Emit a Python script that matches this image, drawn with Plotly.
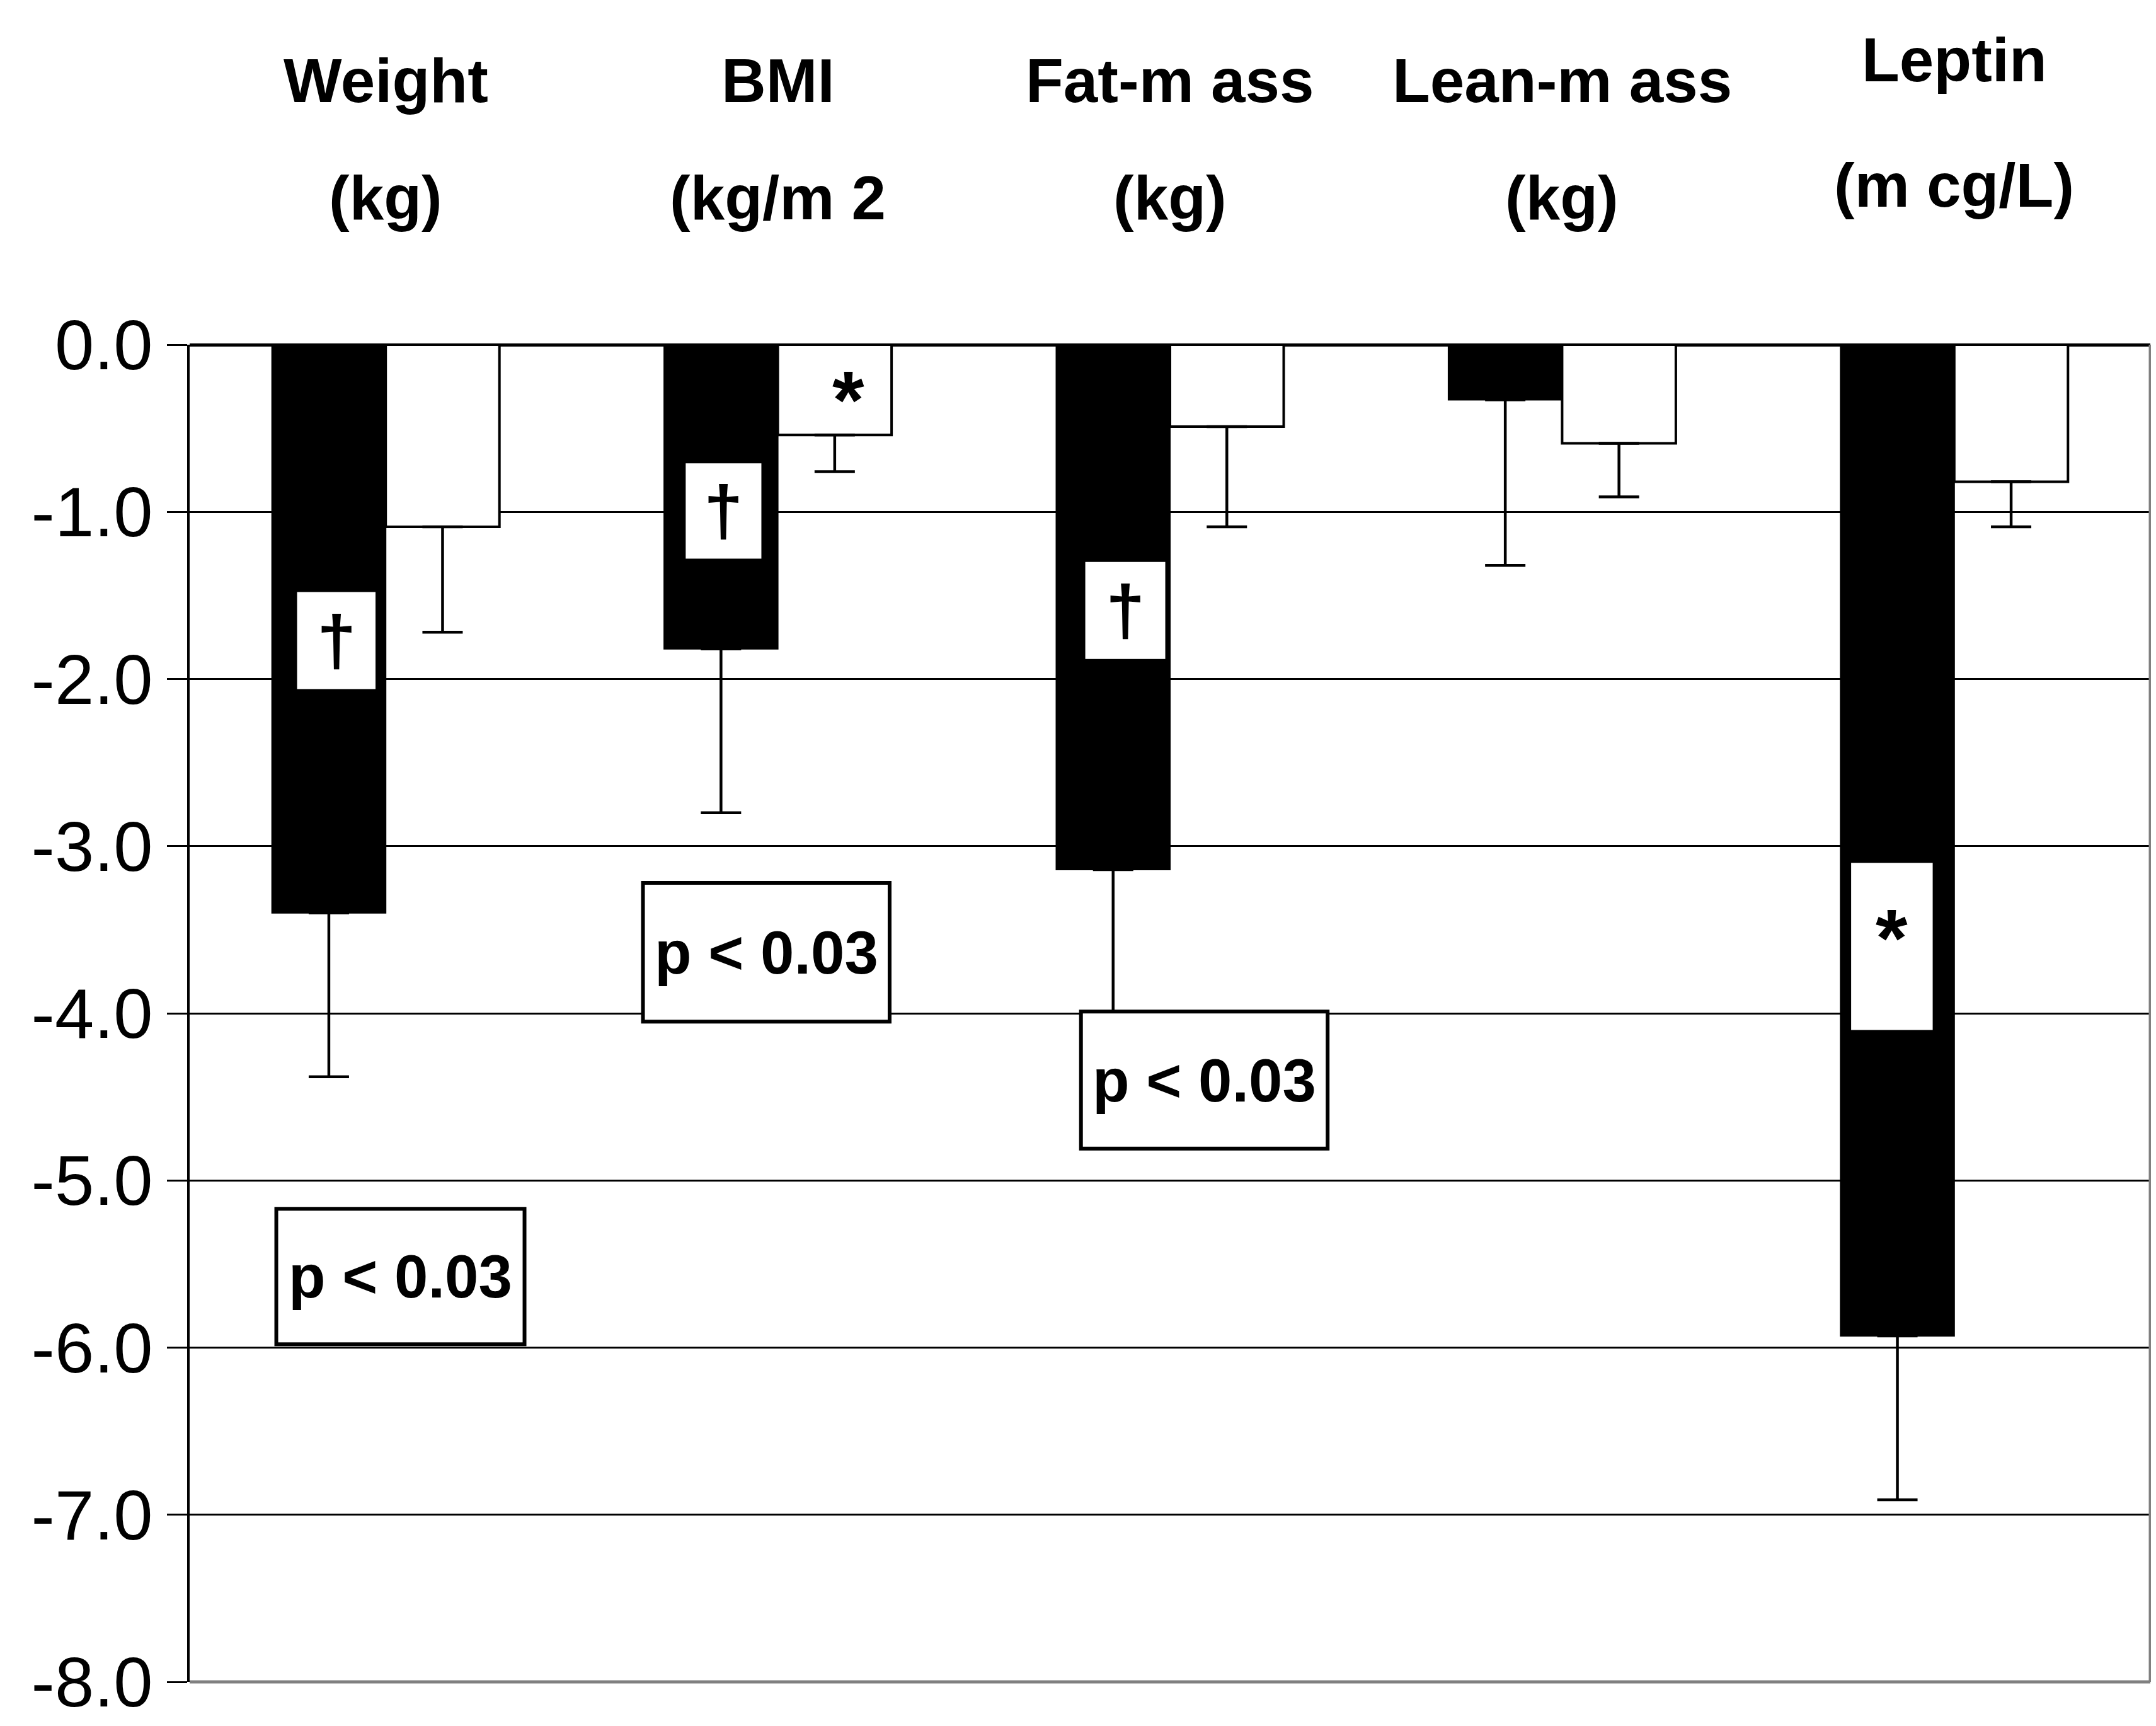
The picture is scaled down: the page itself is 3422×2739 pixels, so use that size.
import plotly.graph_objects as go

categories = ["Weight", "BMI", "Fat-mass", "Lean-mass", "Leptin"]
header_line1 = ["Weight", "BMI", "Fat-m ass", "Lean-m ass", "Leptin"]
header_line2 = ["(kg)", "(kg/m 2", "(kg)", "(kg)", "(m cg/L)"]
black_vals = [-3.40, -1.82, -3.14, -0.33, -5.93]
black_err = [0.98, 0.98, 0.92, 0.99, 0.98]
white_vals = [-1.09, -0.54, -0.49, -0.59, -0.82]
white_err = [0.63, 0.22, 0.60, 0.32, 0.27]
y_ticks = [0, -1, -2, -3, -4, -5, -6, -7, -8]

# significance markers (in data coords of category index)
mark_boxes = [(-0.226, -0.026, -1.48, -2.06, "†"),
              (0.765, 0.958, -0.71, -1.28, "†"),
              (1.784, 1.988, -1.30, -1.88, "†"),
              (3.737, 3.945, -3.10, -4.10, "*")]
p_boxes = [(-0.279, 0.354, -5.17, -5.98),
           (0.656, 1.285, -3.22, -4.05),
           (1.773, 2.402, -3.99, -4.81)]

BOLD = "Liberation Sans Narrow, Arial Narrow, Liberation Sans, Arial"

fig = go.Figure()
fig.add_trace(go.Bar(
    x=list(range(len(categories))), y=black_vals,
    marker=dict(color="black", line=dict(color="black", width=2)),
    error_y=dict(type="data", symmetric=False, array=[0] * 5, arrayminus=black_err,
                 color="black", thickness=4.5, width=32),
    showlegend=False))
fig.add_trace(go.Bar(
    x=list(range(len(categories))), y=white_vals,
    marker=dict(color="white", line=dict(color="black", width=4)),
    error_y=dict(type="data", symmetric=False, array=[0] * 5, arrayminus=white_err,
                 color="black", thickness=4.5, width=32),
    showlegend=False))

shapes = []
annotations = []
for x0, x1, y0, y1, sym in mark_boxes:
    shapes.append(dict(type="rect", xref="x", yref="y", x0=x0, x1=x1, y0=y0, y1=y1,
                       fillcolor="white", line=dict(width=0), layer="above"))
    if sym == "*":
        annotations.append(dict(x=(x0 + x1) / 2, y=y0 - 0.45, xref="x", yref="y", text="<b>*</b>",
                                showarrow=False, font=dict(family=BOLD, size=130, color="black")))
    else:
        annotations.append(dict(x=(x0 + x1) / 2, y=(y0 + y1) / 2, xref="x", yref="y", text="<b>†</b>",
                                showarrow=False, font=dict(family=BOLD, size=112, color="black")))
# asterisk in BMI white bar
annotations.append(dict(x=1.18, y=-0.33, xref="x", yref="y", text="<b>*</b>",
                        showarrow=False, font=dict(family=BOLD, size=130, color="black")))

for x0, x1, y0, y1 in p_boxes:
    shapes.append(dict(type="rect", xref="x", yref="y", x0=x0, x1=x1, y0=y0, y1=y1,
                       fillcolor="white", line=dict(color="black", width=6), layer="above"))
    annotations.append(dict(x=(x0 + x1) / 2, y=(y0 + y1) / 2, xref="x", yref="y", text="<b>p < 0.03</b>",
                            showarrow=False, font=dict(family=BOLD, size=96, color="black")))

# headers (pixel rows in the full-size figure)
line1_y = [120, 120, 120, 120, 87]
line2_y = [306, 306, 306, 306, 286]
TOP, BOT = 539, 2661
for i in range(len(categories)):
    annotations.append(dict(x=i, y=1 + (TOP - line1_y[i]) / (BOT - TOP), xref="x", yref="paper",
                            text="<b>" + header_line1[i] + "</b>", showarrow=False,
                            yanchor="middle", font=dict(family=BOLD, size=98, color="black")))
    annotations.append(dict(x=i, y=1 + (TOP - line2_y[i]) / (BOT - TOP), xref="x", yref="paper",
                            text="<b>" + header_line2[i] + "</b>", showarrow=False,
                            yanchor="middle", font=dict(family=BOLD, size=98, color="black")))

# plot border lines: bottom and right gray
shapes.append(dict(type="line", xref="paper", yref="paper", x0=0, x1=1, y0=0, y1=0,
                   line=dict(color="#808080", width=5), layer="above"))
shapes.append(dict(type="line", xref="paper", yref="paper", x0=1, x1=1, y0=0, y1=1,
                   line=dict(color="#808080", width=5), layer="above"))

fig.update_layout(
    width=3422, height=2739,
    margin=dict(l=293, r=17, t=TOP, b=2739 - BOT),
    paper_bgcolor="white", plot_bgcolor="white",
    barmode="group", bargap=0.42, bargroupgap=0,
    shapes=shapes, annotations=annotations,
    xaxis=dict(range=[-0.5, 4.5], showticklabels=False, showgrid=False, zeroline=False,
               showline=False, ticks=""),
    yaxis=dict(range=[-8, 0], tickvals=y_ticks, ticktext=[f"{v:.1f}" for v in y_ticks],
               tickfont=dict(family="Liberation Sans, Arial", size=112, color="black"),
               showgrid=True, gridcolor="black", gridwidth=3,
               zeroline=True, zerolinecolor="black", zerolinewidth=5,
               showline=True, linecolor="black", linewidth=4,
               ticks="outside", ticklen=32, tickwidth=3, tickcolor="black"),
)

fig.write_html("out.html")
